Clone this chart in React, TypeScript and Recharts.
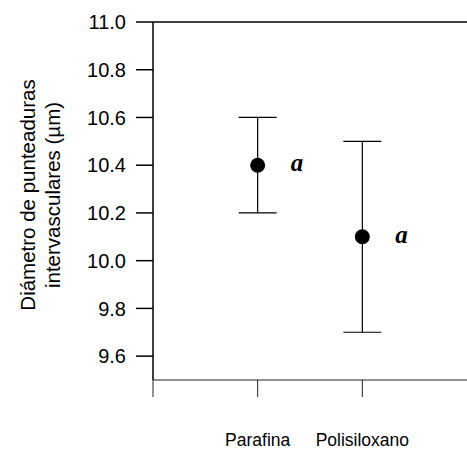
import { ScatterChart, Scatter, XAxis, YAxis, ErrorBar, ReferenceLine, Label } from "recharts";

// tratamientos y medias (µm)
const treatments = ["Parafina", "Polisiloxano"];
const means = [10.4, 10.1];
const errors = [0.2, 0.4];
const letters = ["a", "a"];
const yTicks = [9.6, 9.8, 10.0, 10.2, 10.4, 10.6, 10.8, 11.0];

const data = treatments.map((name, i) => ({
  x: i + 1,
  name,
  y: means[i],
  err: errors[i],
  sig: letters[i],
}));

const FONT = '"Liberation Sans", Arial, sans-serif';

const Point = (props: any) => {
  const { cx, cy, payload } = props;
  return (
    <g>
      <circle cx={cx} cy={cy} r={7.5} fill="#000" />
      <text
        x={cx + 33}
        y={cy + 6}
        fontFamily='"Liberation Serif", "Times New Roman", serif'
        fontStyle="italic"
        fontWeight="bold"
        fontSize={25}
        fill="#000"
      >
        {payload.sig}
      </text>
    </g>
  );
};

// tick line + label drawn together so only the listed ticks show up
const XTick = (props: any) => {
  const { x, y, payload } = props;
  return (
    <g>
      <line x1={x} y1={y} x2={x} y2={y + 17} stroke="#222" strokeWidth={1} />
      <text x={x} y={y + 66} textAnchor="middle" fontFamily={FONT} fontSize={17.5} fill="#000">
        {treatments[payload.value - 1] ?? ""}
      </text>
    </g>
  );
};

const AxisTitle = (props: any) => {
  const { viewBox } = props;
  const cy = viewBox.y + viewBox.height / 2 - 6;
  return (
    <g fontFamily={FONT} fontSize={20.5} fill="#000" textAnchor="middle">
      <text x={35} y={cy} transform={`rotate(-90, 35, ${cy})`}>
        Diámetro de punteaduras
      </text>
      <text x={60} y={cy} transform={`rotate(-90, 60, ${cy})`}>
        intervasculares (µm)
      </text>
    </g>
  );
};

export default function App() {
  return (
    <div style={{ position: "absolute", left: 0, top: 0, background: "#fff" }}>
      <ScatterChart width={467} height={451} margin={{ top: 22, right: 0, bottom: 0, left: 0 }}>
        <XAxis
          type="number"
          dataKey="x"
          domain={[0, 3]}
          ticks={[0, 1, 2]}
          height={71}
          tickSize={0}
          tickMargin={0}
          tickLine={false}
          axisLine={{ stroke: "#222", strokeWidth: 1 }}
          tick={<XTick />}
        />
        <YAxis
          type="number"
          dataKey="y"
          domain={[9.5, 11]}
          ticks={yTicks}
          tickFormatter={(v) => v.toFixed(1)}
          width={153}
          tickSize={17}
          tickMargin={10}
          axisLine={{ stroke: "#000", strokeWidth: 1.5 }}
          tickLine={{ stroke: "#000", strokeWidth: 1.5 }}
          tick={{ fill: "#000", fontSize: 20, fontFamily: FONT }}
        >
          <Label content={<AxisTitle />} />
        </YAxis>
        <ReferenceLine y={11} stroke="#000" strokeWidth={1.5} />
        <Scatter data={data} shape={<Point />} isAnimationActive={false}>
          <ErrorBar dataKey="err" direction="y" width={19} stroke="#000" strokeWidth={1.2} />
        </Scatter>
      </ScatterChart>
    </div>
  );
}
